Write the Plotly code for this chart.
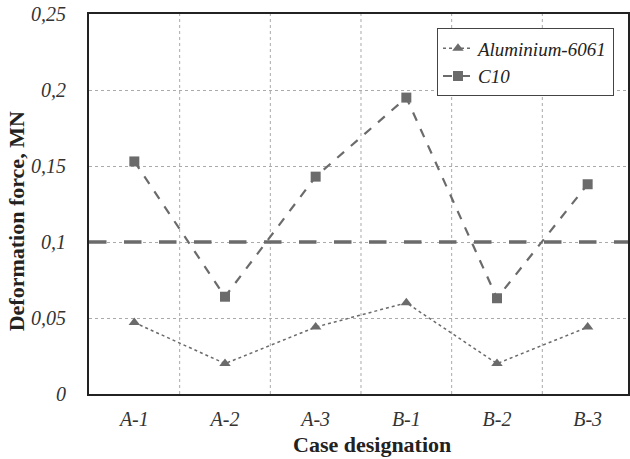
import plotly.graph_objects as go

cases = ["A-1", "A-2", "A-3", "B-1", "B-2", "B-3"]
aluminium = [0.047, 0.020, 0.044, 0.060, 0.020, 0.044]
c10 = [0.153, 0.064, 0.143, 0.195, 0.063, 0.138]
limit = 0.1
ytick_vals = [0, 0.05, 0.1, 0.15, 0.2, 0.25]
ytick_text = ["0", "0,05", "0,1", "0,15", "0,2", "0,25"]

gray = "#6b6b6b"
serif = "Liberation Serif"

fig = go.Figure()
fig.add_trace(go.Scatter(
    x=list(range(len(cases))), y=aluminium, name="<i>Aluminium-6061</i>",
    mode="lines+markers",
    line=dict(color=gray, width=1.5, dash="dot"),
    marker=dict(symbol="triangle-up", size=10, color=gray),
))
fig.add_trace(go.Scatter(
    x=list(range(len(cases))), y=c10, name="<i>C10</i>",
    mode="lines+markers",
    line=dict(color=gray, width=2.2, dash="dash"),
    marker=dict(symbol="square", size=10, color=gray),
))
fig.add_shape(type="line", xref="paper", x0=0, x1=1, yref="y", y0=limit, y1=limit,
              line=dict(color=gray, width=3.5, dash="longdash"))

fig.update_layout(
    width=630, height=459,
    margin=dict(l=89, r=0, t=14, b=65),
    plot_bgcolor="white", paper_bgcolor="white",
    font=dict(family=serif, color="#222"),
    showlegend=True,
    legend=dict(x=0.974, y=0.962, xanchor="right", yanchor="top",
                bgcolor="white", bordercolor="#444", borderwidth=1,
                font=dict(family=serif, size=19, color="#222"),
                tracegroupgap=0, itemwidth=30),
    xaxis=dict(
        range=[-0.5, 5.445],
        tickmode="array", tickvals=list(range(len(cases))),
        ticktext=["<i>%s</i>" % c for c in cases],
        tickfont=dict(family=serif, size=20, color="#333"),
        showgrid=False, zeroline=False,
        showline=True, linecolor="#222", linewidth=2, mirror=True,
        ticks="", ticklabelstandoff=6,
    ),
    yaxis=dict(
        range=[0, 0.25],
        tickmode="array", tickvals=ytick_vals,
        ticktext=["<i>%s</i>" % t for t in ytick_text],
        tickfont=dict(family=serif, size=20, color="#333"),
        showgrid=True, gridcolor="#aaaaaa", griddash="dot", gridwidth=1,
        zeroline=False,
        showline=True, linecolor="#222", linewidth=2, mirror=True,
        ticks="", ticklabelstandoff=17,
    ),
)
fig.add_annotation(text="<b>Case designation</b>", xref="paper", yref="paper",
                   x=0.525, y=-0.132, xanchor="center", yanchor="middle", showarrow=False,
                   font=dict(family=serif, size=22, color="#222"))
fig.add_annotation(text="<b>Deformation force, MN</b>", xref="paper", yref="paper",
                   x=-0.135, y=0.455, xanchor="center", yanchor="middle", showarrow=False,
                   textangle=-90, font=dict(family=serif, size=22, color="#222"))
for xv in [0.5, 1.5, 2.5, 3.5, 4.5]:
    fig.add_shape(type="line", xref="x", yref="paper", x0=xv, x1=xv, y0=0, y1=1,
                  line=dict(color="#aaaaaa", width=1, dash="dot"), layer="below")

fig.write_html("out.html")
